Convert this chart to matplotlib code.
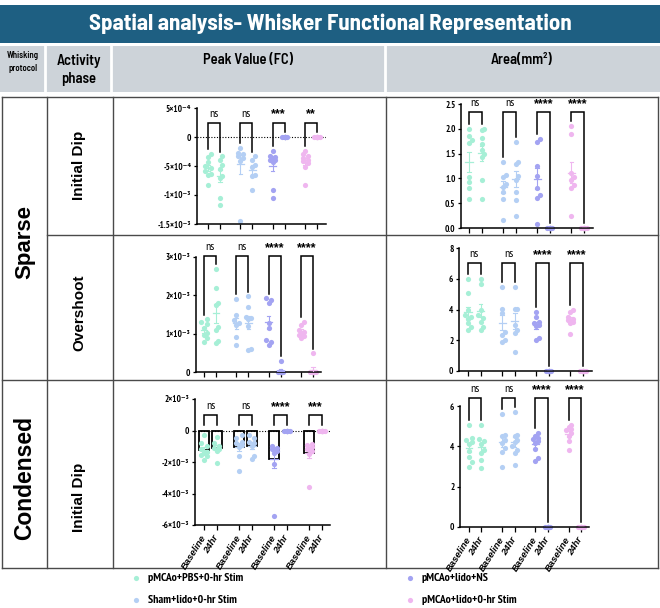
import numpy as np
import matplotlib
matplotlib.use("Agg")
import matplotlib.pyplot as plt
from matplotlib import font_manager as fm
from matplotlib.patches import Rectangle

W, H = 660, 608

_names = {f.name for f in fm.fontManager.ttflist}


def pick(cands):
    for c in cands:
        if c in _names:
            return [c, "DejaVu Sans"]
    return ["Liberation Sans", "DejaVu Sans"]


TITLE_F = pick(["Barlow Semi Condensed", "Barlow Condensed", "Roboto Condensed", "Liberation Sans Narrow"])
NARROW_F = pick(["PT Sans Narrow", "Liberation Sans Narrow", "Arimo Narrow", "Roboto Condensed", "Archivo Narrow"])
ARIAL_F = ["Liberation Sans", "DejaVu Sans"]

# ---- data ----
groups = ["pMCAo+PBS+0-hr Stim", "Sham+lido+0-hr Stim", "pMCAo+lido+NS", "pMCAo+lido+0-hr Stim"]
colors = ["#a6efd6", "#b4cff4", "#a3a3f2", "#efb6ef"]
timepoints = ["Baseline", "24hr"]

# peak values in units of 1e-3, areas in mm^2; order: g1 base, g1 24hr, g2 base, ...
sparse_dip_peak = [
    [-0.29, -0.34, -0.43, -0.50, -0.54, -0.58, -0.63, -0.66, -0.82],
    [-0.33, -0.40, -0.49, -0.55, -0.68, -0.71, -1.06, -1.17],
    [-0.19, -0.27, -0.30, -0.33, -0.36, -0.42, -1.44],
    [-0.33, -0.39, -0.48, -0.51, -0.65, -0.68, -0.91],
    [-0.24, -0.33, -0.35, -0.37, -0.39, -0.40, -0.43, -0.91, -1.05],
    [0, 0, 0, 0, 0, 0, 0, 0, 0],
    [-0.24, -0.30, -0.33, -0.36, -0.39, -0.42, -0.45, -0.51, -0.83],
    [0, 0, 0, 0, 0, 0, 0, 0],
]
sparse_dip_area = [
    [2.00, 1.85, 1.78, 1.72, 1.03, 0.92, 0.80, 0.58],
    [2.00, 1.98, 1.81, 1.69, 1.57, 1.49, 1.44, 0.97, 0.58],
    [1.34, 1.07, 1.03, 0.88, 0.82, 0.72, 0.58, 0.16],
    [1.74, 1.33, 1.30, 1.05, 0.97, 0.73, 0.56, 0.25],
    [1.79, 1.74, 1.25, 1.05, 0.80, 0.66, 0.60, 0.09],
    [0, 0, 0, 0, 0, 0, 0, 0],
    [2.05, 1.89, 1.10, 1.03, 0.97, 0.86, 0.81, 0.24],
    [0, 0, 0, 0, 0, 0, 0, 0],
]
sparse_over_peak = [
    [1.38, 1.31, 1.24, 1.14, 1.02, 0.97, 0.88, 0.78],
    [2.69, 2.19, 1.80, 1.76, 1.18, 1.10, 0.80, 0.76],
    [1.91, 1.50, 1.35, 1.28, 1.22, 0.92, 0.71],
    [1.98, 1.70, 1.44, 1.40, 1.38, 1.21, 0.60, 0.58],
    [1.92, 1.88, 1.80, 1.27, 1.14, 0.84, 0.78, 0.71],
    [0.29, 0, 0, 0, 0, 0, 0, 0],
    [1.31, 1.22, 1.09, 1.05, 1.00, 0.97, 0.95, 0.88],
    [0.49, 0, 0, 0, 0, 0, 0, 0],
]
sparse_over_area = [
    [6.00, 5.10, 3.95, 3.67, 3.52, 3.41, 3.09, 2.87, 2.66],
    [5.96, 5.68, 3.95, 3.63, 3.46, 3.20, 2.87, 2.66],
    [5.46, 4.06, 3.74, 2.55, 2.33, 2.00, 1.86],
    [5.46, 4.06, 4.02, 2.98, 2.66, 2.44, 1.25],
    [3.84, 3.52, 3.20, 3.09, 2.98, 2.94, 2.16, 2.00],
    [0, 0, 0, 0, 0, 0, 0, 0],
    [3.95, 3.84, 3.52, 3.41, 3.30, 3.20, 3.09, 2.40],
    [0, 0, 0, 0, 0, 0, 0, 0],
]
cond_dip_peak = [
    [-0.30, -0.80, -1.00, -1.20, -1.35, -1.45, -1.55, -1.60, -1.85],
    [-0.40, -0.80, -1.00, -1.10, -1.20, -1.30, -2.05],
    [-0.30, -0.50, -0.70, -0.80, -0.95, -1.05, -1.60, -2.60],
    [-0.30, -0.50, -0.70, -0.80, -1.00, -1.65, -1.80],
    [-1.00, -1.10, -1.15, -1.20, -1.30, -1.40, -2.10, -5.40],
    [0, 0, 0, 0, 0, 0, 0, 0],
    [-0.85, -0.95, -1.05, -1.15, -1.20, -1.30, -1.50, -3.60],
    [0, 0, 0, 0, 0, 0, 0, 0],
]
cond_dip_area = [
    [5.07, 4.40, 4.30, 4.20, 4.10, 3.75, 3.45, 3.20, 3.00],
    [5.07, 4.36, 4.25, 4.10, 3.84, 3.67, 3.34, 2.93],
    [5.60, 4.55, 4.50, 4.30, 4.15, 3.90, 3.70, 3.00],
    [5.72, 4.57, 4.50, 4.33, 4.20, 4.00, 3.84, 3.67, 3.05],
    [4.66, 4.52, 4.40, 4.36, 4.25, 4.16, 3.87, 3.43, 3.26],
    [0, 0, 0, 0, 0, 0, 0, 0],
    [5.07, 4.95, 4.85, 4.79, 4.66, 4.49, 4.25, 3.84],
    [0, 0, 0, 0, 0, 0, 0, 0],
]

sig_sparse_dip_peak = ["ns", "ns", "***", "**"]
sig_sparse_dip_area = ["ns", "ns", "****", "****"]
sig_sparse_over_peak = ["ns", "ns", "****", "****"]
sig_sparse_over_area = ["ns", "ns", "****", "****"]
sig_cond_dip_peak = ["ns", "ns", "****", "***"]
sig_cond_dip_area = ["ns", "ns", "****", "****"]

yt_sparse_dip_peak = [-1.5e-3, -1e-3, -5e-4, 0, 5e-4]
yl_sparse_dip_peak = ["-1.5×10⁻³", "-1×10⁻³", "-5×10⁻⁴", "0", "5×10⁻⁴"]
yt_sparse_dip_area = [0, 0.5, 1.0, 1.5, 2.0, 2.5]
yl_sparse_dip_area = ["0.0", "0.5", "1.0", "1.5", "2.0", "2.5"]
yt_sparse_over_peak = [0, 1e-3, 2e-3, 3e-3]
yl_sparse_over_peak = ["0", "1×10⁻³", "2×10⁻³", "3×10⁻³"]
yt_sparse_over_area = [0, 2, 4, 6, 8]
yl_sparse_over_area = ["0", "2", "4", "6", "8"]
yt_cond_dip_peak = [-6e-3, -4e-3, -2e-3, 0, 2e-3]
yl_cond_dip_peak = ["-6×10⁻³", "-4×10⁻³", "-2×10⁻³", "0", "2×10⁻³"]
yt_cond_dip_area = [0, 2, 4, 6]
yl_cond_dip_area = ["0", "2", "4", "6"]

# category positions: pairs of Baseline/24hr
pos = np.array([g * 2.7 + t for g in range(4) for t in range(2)])

fig = plt.figure(figsize=(W / 100, H / 100), dpi=100)

# ---- background table (pixel coordinates) ----
bg = fig.add_axes([0, 0, 1, 1])
bg.set_xlim(0, W)
bg.set_ylim(H, 0)
bg.axis("off")

bg.add_patch(Rectangle((0, 5), W, 38, color="#1e5f82", lw=0))
bg.add_patch(Rectangle((0, 46), W, 46, color="#cdd3d9", lw=0))
for x in [45, 111, 385]:
    bg.plot([x, x], [46, 92], color="white", lw=2)
bg.text(330, 24, "Spatial analysis- Whisker Functional Representation", color="white",
        fontsize=16.5, fontweight="bold", family=TITLE_F, ha="center", va="center")
bg.text(23, 62, "Whisking\nprotocol", fontsize=6.3, fontweight="semibold", family=TITLE_F,
        ha="center", va="center", linespacing=1.5)
bg.text(79, 70, "Activity\nphase", fontsize=10.5, fontweight="semibold", family=TITLE_F,
        ha="center", va="center", linespacing=1.45)
bg.text(248, 60, "Peak Value (FC)", fontsize=10.5, fontweight="semibold", family=TITLE_F,
        ha="center", va="center")
bg.text(522, 60, "Area(mm²)", fontsize=10.5, fontweight="semibold", family=TITLE_F,
        ha="center", va="center")

lc = "#4a4a4a"
for y, x0 in [(97, 2), (235, 47), (380, 2), (568, 2)]:
    bg.plot([x0, 658], [y, y], color=lc, lw=1)
for x in [2, 47, 113, 386, 658]:
    bg.plot([x, x], [97, 568], color=lc, lw=1)

bg.text(25, 242, "Sparse", rotation=90, fontsize=16, fontweight="bold", family=ARIAL_F,
        ha="center", va="center")
bg.text(25, 478, "Condensed", rotation=90, fontsize=16.5, fontweight="bold", family=ARIAL_F,
        ha="center", va="center")
for y, s in [(165, "Initial Dip"), (313, "Overshoot"), (497, "Initial Dip")]:
    bg.text(79, y, s, rotation=90, fontsize=11, fontweight="bold", family=ARIAL_F,
            ha="center", va="center")

# legend
for (x, y), name, c in zip([(136, 578), (136, 600), (410, 578), (410, 600)], groups, colors):
    bg.scatter([x], [y], s=14, color=c, lw=0)
    bg.text(x + 12, y, name, fontsize=8.5, fontweight="bold", family=NARROW_F, va="center")


def spread(vals, ypx, xpx, d=4.2, cap=5.0):
    vals = np.asarray(vals, float)
    order = np.argsort(vals)
    placed = []
    offs = np.zeros(len(vals))
    step = d * 0.6
    cands = [0.0]
    k = 1
    while k * step <= cap + 1e-9:
        cands += [k * step, -k * step]
        k += 1
    for i in order:
        y = vals[i] * ypx
        best, bestd = 0.0, -1
        for c in cands:
            md = min([np.hypot(c - px, y - py) for py, px in placed] + [99])
            if md >= d:
                best = c
                break
            if md > bestd:
                best, bestd = c, md
        placed.append((y, best))
        offs[i] = best / xpx
    return offs


def draw_panel(box, data, scale, yticks, ylabels, sig, brk_top, bars=False,
               zero_line=False, xlabels=False):
    left, right, top, bottom, c0, c1 = box
    ax = fig.add_axes([left / W, 1 - bottom / H, (right - left) / W, (bottom - top) / H])
    ax.patch.set_alpha(0)
    unit = (c1 - c0) / pos[-1]
    ax.set_xlim((left - c0) / unit, (right - c0) / unit)
    ymin, ymax = min(yticks), max(yticks)
    ax.set_ylim(ymin, ymax)
    ypx = (bottom - top) / (ymax - ymin)
    span = ymax - ymin

    if zero_line:
        ax.axhline(0, color="black", lw=0.8, ls=(0, (1, 1.5)), zorder=1)

    for i, vals in enumerate(data):
        v = np.array(vals, float) * scale
        c = colors[i // 2]
        x = pos[i]
        m = v.mean()
        sem = v.std(ddof=1) / np.sqrt(len(v))
        if bars:
            ax.bar(x, m, width=0.75, facecolor="none", edgecolor="black", lw=1.3, zorder=1.5)
        ax.scatter(x + spread(v, ypx, unit), v, s=14, color=c, lw=0, zorder=2, clip_on=False)
        ax.plot([x - 0.28, x + 0.28], [m, m], color=c, lw=0.9, zorder=3)
        ax.plot([x, x], [m - sem, m + sem], color=c, lw=0.8, zorder=3)
        for e in (m - sem, m + sem):
            ax.plot([x - 0.14, x + 0.14], [e, e], color=c, lw=0.8, zorder=3)

    gap = 0.04 * span
    ytop = ymin + brk_top * span
    for g, s in enumerate(sig):
        xa, xb = pos[2 * g], pos[2 * g + 1]
        la = np.max(np.array(data[2 * g], float) * scale)
        lb = np.max(np.array(data[2 * g + 1], float) * scale)
        if bars:
            la, lb = max(la, 0), max(lb, 0)
        ax.plot([xa, xa, xb, xb], [la + gap, ytop, ytop, lb + gap], color="black",
                lw=1.1, clip_on=False, zorder=4, solid_joinstyle="miter")
        if s == "ns":
            ax.text((xa + xb) / 2, ytop + 4 / ypx, s, fontsize=8.5, family=NARROW_F,
                    ha="center", va="bottom")
        else:
            ax.text((xa + xb) / 2, ytop + 2 / ypx, s, fontsize=9, fontweight="bold",
                    family=ARIAL_F, ha="center", va="bottom")

    for sp in ["top", "right"]:
        ax.spines[sp].set_visible(False)
    for sp in ["left", "bottom"]:
        ax.spines[sp].set_linewidth(1.1)
    ax.set_yticks(yticks)
    ax.set_yticklabels(ylabels, fontsize=6.5, fontweight="bold", family=NARROW_F)
    ax.set_xticks(pos)
    if xlabels:
        ax.set_xticklabels(timepoints * 4, rotation=58, ha="right", va="center",
                           rotation_mode="anchor", fontsize=6.8, fontweight="bold",
                           fontstyle="italic", family=ARIAL_F)
    else:
        ax.set_xticklabels([])
    ax.tick_params(axis="y", length=2.5, width=0.9, pad=1.5)
    ax.tick_params(axis="x", length=3.5, width=0.9, pad=4)
    return ax


draw_panel((197, 326, 108, 224, 208, 317), sparse_dip_peak, 1e-3, yt_sparse_dip_peak,
           yl_sparse_dip_peak, sig_sparse_dip_peak, 0.875, zero_line=True)
draw_panel((461, 593, 104, 228, 469, 584), sparse_dip_area, 1.0, yt_sparse_dip_area,
           yl_sparse_dip_area, sig_sparse_dip_area, 0.936)
draw_panel((196, 321, 257, 372, 204, 313), sparse_over_peak, 1e-3, yt_sparse_over_peak,
           yl_sparse_over_peak, sig_sparse_over_peak, 1.01)
draw_panel((459, 592, 248, 371, 468, 583), sparse_over_area, 1.0, yt_sparse_over_area,
           yl_sparse_over_area, sig_sparse_over_area, 0.875)
draw_panel((195, 330, 399, 525, 204, 322), cond_dip_peak, 1e-3, yt_cond_dip_peak,
           yl_cond_dip_peak, sig_cond_dip_peak, 0.87, bars=True, zero_line=True, xlabels=True)
draw_panel((460, 589, 406, 527, 469, 581), cond_dip_area, 1.0, yt_cond_dip_area,
           yl_cond_dip_area, sig_cond_dip_area, 1.065, xlabels=True)

fig.savefig("out.png", dpi=100)
